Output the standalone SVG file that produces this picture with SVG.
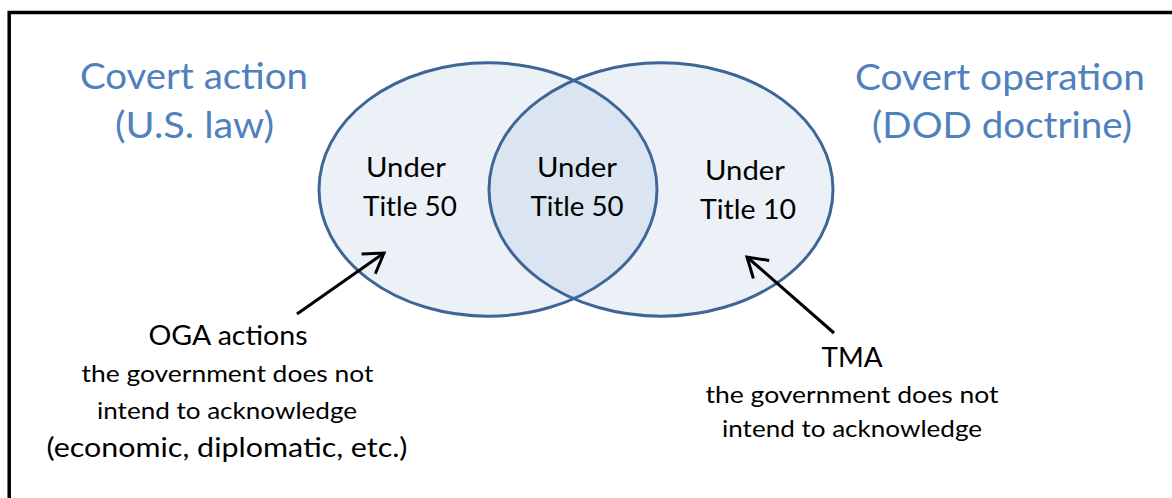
<svg xmlns="http://www.w3.org/2000/svg" width="1172" height="498" viewBox="0 0 1172 498">
<style>
text{font-family:Lato,"Open Sans","Liberation Sans",sans-serif;text-anchor:middle;fill:#000}
.title{font-size:37px;fill:#4f81bd}
.in{font-size:27px}
.lab{font-size:26px}
.sub{font-size:24px}
.big{font-size:27px}
.set{fill:#4f81bd;fill-opacity:0.11;stroke:#3d6595;stroke-width:3}
.arr{stroke:#000;stroke-width:3;fill:none}
</style>
<defs>
<marker id="head" markerUnits="userSpaceOnUse" viewBox="-22 -15 26 30" refX="0" refY="0" markerWidth="26" markerHeight="30" orient="auto">
<path d="M-19,-12 L0,0 L-19,12" fill="none" stroke="#000" stroke-width="3" stroke-linejoin="miter"/>
</marker>
</defs>
<rect x="0" y="0" width="1172" height="498" fill="#fff"/>
<rect x="9.2" y="12.5" width="1200" height="600" fill="none" stroke="#000" stroke-width="3.5"/>
<g id="title-left">
<text class="title" x="194" y="89" textLength="228" lengthAdjust="spacingAndGlyphs">Covert action</text>
<text class="title" x="194.5" y="138" textLength="159" lengthAdjust="spacingAndGlyphs">(U.S. law)</text>
</g>
<g id="title-right">
<text class="title" x="1000" y="90" textLength="290" lengthAdjust="spacingAndGlyphs">Covert operation</text>
<text class="title" x="1002" y="138" textLength="260" lengthAdjust="spacingAndGlyphs">(DOD doctrine)</text>
</g>
<g id="set-left">
<ellipse class="set" cx="488" cy="189.5" rx="169" ry="126.7"/>
<text class="in" x="406" y="177" textLength="80" lengthAdjust="spacingAndGlyphs">Under</text>
<text class="in" x="410" y="216" textLength="94" lengthAdjust="spacingAndGlyphs">Title 50</text>
</g>
<g id="set-right">
<ellipse class="set" cx="661" cy="189.5" rx="172" ry="126.7"/>
<text class="in" x="745" y="180" textLength="80" lengthAdjust="spacingAndGlyphs">Under</text>
<text class="in" x="748" y="219" textLength="96" lengthAdjust="spacingAndGlyphs">Title 10</text>
</g>
<g id="intersection">
<text class="in" x="577" y="177" textLength="80" lengthAdjust="spacingAndGlyphs">Under</text>
<text class="in" x="577" y="216" textLength="93" lengthAdjust="spacingAndGlyphs">Title 50</text>
</g>
<g id="oga">
<text class="lab" x="228" y="345" textLength="159" lengthAdjust="spacingAndGlyphs">OGA actions</text>
<text class="sub" x="227.5" y="382" textLength="292" lengthAdjust="spacingAndGlyphs">the government does not</text>
<text class="sub" x="227" y="419" textLength="260" lengthAdjust="spacingAndGlyphs">intend to acknowledge</text>
<text class="big" x="227" y="457" textLength="361" lengthAdjust="spacingAndGlyphs">(economic, diplomatic, etc.)</text>
</g>
<g id="tma">
<text class="lab" x="852" y="367" textLength="61" lengthAdjust="spacingAndGlyphs">TMA</text>
<text class="sub" x="852" y="403" textLength="293" lengthAdjust="spacingAndGlyphs">the government does not</text>
<text class="sub" x="852" y="437" textLength="260" lengthAdjust="spacingAndGlyphs">intend to acknowledge</text>
</g>
<g id="connectors">
<line class="arr" x1="297" y1="314" x2="384" y2="253" marker-end="url(#head)"/>
<line class="arr" x1="834" y1="333" x2="747" y2="257" marker-end="url(#head)"/>
</g>
</svg>
